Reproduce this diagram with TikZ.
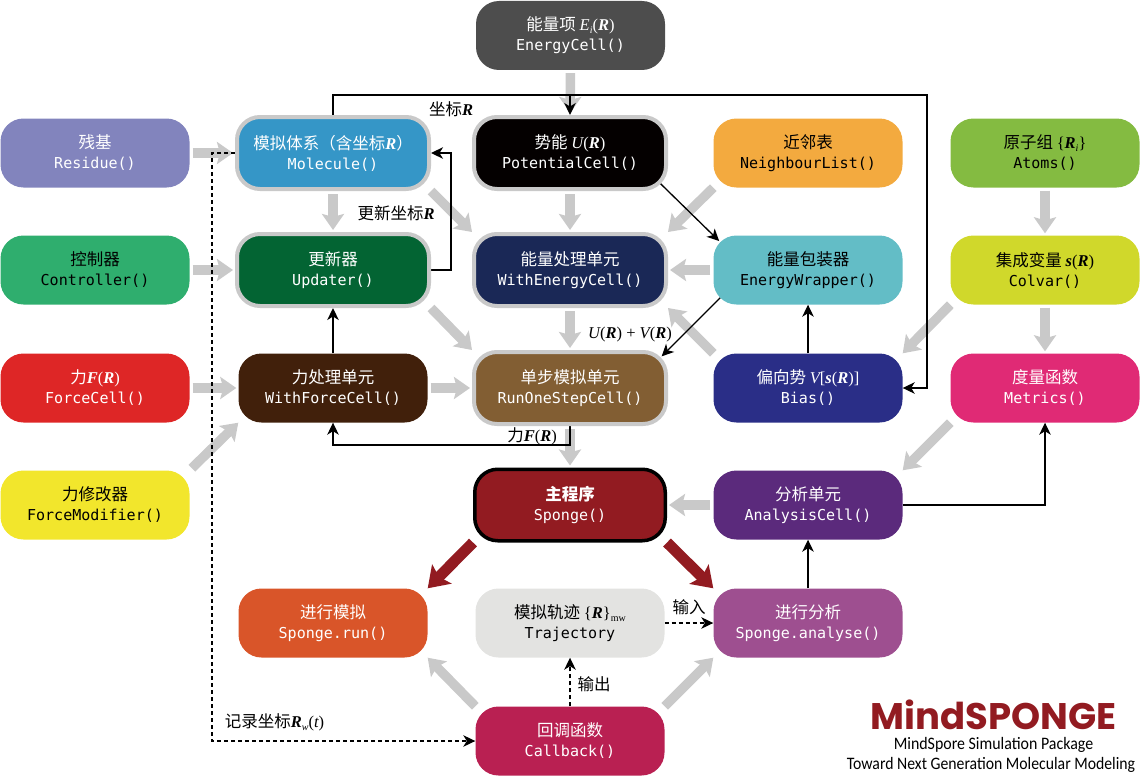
\documentclass[tikz,border=0pt]{standalone}
\usepackage{fontspec}
\setmainfont{Noto Sans CJK SC}
\newfontfamily\monof{DejaVu Sans Mono}
\newfontfamily\serf{Liberation Serif}
\newfontfamily\logof{Poppins}
\newfontfamily\subf{Carlito}
\usetikzlibrary{arrows.meta,calc,backgrounds}
\newcommand\iv[1]{{\serf\itshape #1}}
\newcommand\bv[1]{{\serf\bfseries\itshape #1}}
\newcommand\rv[1]{{\serf #1}}
\newcommand\lowtext[1]{\raisebox{-3pt}{\fontsize{10}{10}\selectfont #1}}
\newcommand\lab[2]{{\fontsize{16.5}{20}\selectfont #1}\\{\monof\fontsize{15.05}{20}\selectfont #2}}
\definecolor{gr}{HTML}{C9C9C9}
\definecolor{spred}{HTML}{921B21}
\tikzset{
  cell/.style={rounded corners=23pt,inner sep=0pt,minimum width=189pt,minimum height=69pt,align=center,text=white,font=\fontsize{15}{20}\selectfont},
  ring/.style={cell,draw=gr,line width=4pt,minimum width=192pt,minimum height=72pt},
  mainbox/.style={cell,draw=black,line width=3.5pt,minimum width=190.5pt,minimum height=71.5pt},
  gar/.style={draw=gr,line width=9.5pt,-{Stealth[width=22pt,length=16pt,inset=3pt]}},
  gs/.style={gar,shorten <=3pt,shorten >=2pt},
  rar/.style={draw=spred,line width=11pt,-{Stealth[width=27pt,length=20pt,inset=4pt]}},
  bar/.style={draw=black,line width=1.3pt,-{Stealth[width=11.5pt,length=12pt,inset=3.5pt]}},
  dar/.style={bar,line width=1.4pt,dash pattern=on 4pt off 3pt},
  tag/.style={inner sep=0pt,font=\fontsize{16.5}{18}\selectfont,text=black},
}
\begin{document}
\begin{tikzpicture}[x=1pt,y=-1pt]
\useasboundingbox (0,0) rectangle (1140,776);
% row 0
\node[cell,fill={rgb,255:red,77;green,77;blue,77}] (ene) at (570.5,35.5) {\lab{能量项 \iv{E}\lowtext{\iv{i}}\rv{(}\bv{R}\rv{)}}{EnergyCell()}};
% row 1
\node[cell,fill={rgb,255:red,130;green,132;blue,189}] (res) at (95,153) {\lab{残基}{Residue()}};
\node[ring,fill={rgb,255:red,53;green,150;blue,199}] (mol) at (333,153) {\lab{模拟体系（含坐标\bv{R}）}{Molecule()}};
\node[ring,fill={rgb,255:red,4;green,0;blue,0}] (pot) at (570,153) {\lab{势能 \iv{U}\rv{(}\bv{R}\rv{)}}{PotentialCell()}};
\node[cell,fill={rgb,255:red,243;green,170;blue,63},text=black] (nei) at (808,153) {\lab{近邻表}{NeighbourList()}};
\node[cell,fill={rgb,255:red,132;green,187;blue,65},text=black] (ato) at (1045,153) {\lab{原子组 \rv{\{}\bv{R}\lowtext{\iv{i}}\rv{\}}}{Atoms()}};
% row 2
\node[cell,fill={rgb,255:red,47;green,174;blue,110},text=black] (con) at (95,270) {\lab{控制器}{Controller()}};
\node[ring,fill={rgb,255:red,3;green,100;blue,51}] (upd) at (333,270) {\lab{更新器}{Updater()}};
\node[ring,fill={rgb,255:red,26;green,40;blue,86}] (wen) at (570,270) {\lab{能量处理单元}{WithEnergyCell()}};
\node[cell,fill={rgb,255:red,99;green,189;blue,198},text=black] (ewr) at (808,270) {\lab{能量包装器}{EnergyWrapper()}};
\node[cell,fill={rgb,255:red,208;green,216;blue,43},text=black] (col) at (1045,270) {\lab{集成变量 \bv{s}\rv{(}\bv{R}\rv{)}}{Colvar()}};
% row 3
\node[cell,fill={rgb,255:red,222;green,38;blue,38}] (foc) at (95,388) {\lab{力\bv{F}\rv{(}\bv{R}\rv{)}}{ForceCell()}};
\node[cell,fill={rgb,255:red,65;green,32;blue,11}] (wfo) at (333,388) {\lab{力处理单元}{WithForceCell()}};
\node[ring,fill={rgb,255:red,130;green,94;blue,51}] (run) at (570,388) {\lab{单步模拟单元}{RunOneStepCell()}};
\node[cell,fill={rgb,255:red,42;green,46;blue,135}] (bia) at (808,388) {\lab{偏向势 \iv{V}\rv{[}\bv{s}\rv{(}\bv{R}\rv{)]}}{Bias()}};
\node[cell,fill={rgb,255:red,224;green,42;blue,117}] (met) at (1045,388) {\lab{度量函数}{Metrics()}};
% row 4
\node[cell,fill={rgb,255:red,242;green,230;blue,44},text=black] (fmo) at (95,505) {\lab{力修改器}{ForceModifier()}};
\node[mainbox,fill=spred] (spo) at (570,505) {\lab{\bfseries 主程序}{Sponge()}};
\node[cell,fill={rgb,255:red,91;green,42;blue,124}] (ana) at (808,505) {\lab{分析单元}{AnalysisCell()}};
% row 5
\node[cell,fill={rgb,255:red,217;green,85;blue,41}] (srn) at (333,623) {\lab{进行模拟}{Sponge.run()}};
\node[cell,fill={rgb,255:red,227;green,227;blue,225},text=black] (tra) at (570,623) {\lab{模拟轨迹 \rv{\{}\bv{R}\rv{\}}\lowtext{\rv{mw}}}{Trajectory}};
\node[cell,fill={rgb,255:red,158;green,79;blue,144}] (san) at (808,623) {\lab{进行分析}{Sponge.analyse()}};
% row 6
\node[cell,fill={rgb,255:red,185;green,32;blue,82}] (cal) at (570,741) {\lab{回调函数}{Callback()}};
% labels
\node[tag] (l1) at (451,109) {坐标\bv{R}};
\node[tag] (l2) at (396,213) {更新坐标\bv{R}};
\node[tag] (l3) at (630,335) {\iv{U}\rv{(}\bv{R}\rv{) + }\iv{V}\rv{(}\bv{R}\rv{)}};
\node[tag] (l4) at (532,436) {力\bv{F}\rv{(}\bv{R}\rv{)}};
\node[tag] (l5) at (689,607) {输入};
\node[tag] (l6) at (594,684) {输出};
\node[tag] (l7) at (274.5,722) {记录坐标\bv{R}\lowtext{\iv{w}}\rv{(}\iv{t}\rv{)}};
% logo
\node[inner sep=0pt,text=spred,font=\logof\bfseries\fontsize{37}{37}\selectfont] (lg) at (993.5,715) {MindSPONGE};
\node[inner sep=0pt,font=\subf\fontsize{17.5}{18}\selectfont] (lg2) at (993.5,745) {\scalebox{0.91}[1]{MindSpore Simulation Package}};
\node[inner sep=0pt,font=\subf\fontsize{17.5}{18}\selectfont] (lg3) at (991,765) {\scalebox{0.9}[1]{Toward Next Generation Molecular Modeling}};
\begin{pgfonlayer}{background}
% grey arrows
\draw[gs] (res) -- (mol);
\draw[gs] (con) -- (upd);
\draw[gs] (foc) -- (wfo);
\draw[gar,shorten <=3pt] (fmo.north east) -- (wfo.south west);
\draw[gs] (mol) -- (upd);
\draw[gar] (mol.south east) -- (wen.north west);
\draw[gar] (upd.south east) -- (run.north west);
\draw[gs] (ene) -- (pot);
\draw[gs] (pot) -- (wen);
\draw[gar] (nei.south west) -- (wen.north east);
\draw[gs] (ewr) -- (wen);
\draw[gar] (bia.north west) -- (wen.south east);
\draw[gs] (wen) -- (run);
\draw[gs] (wfo) -- (run);
\draw[gs] (run) -- (spo);
\draw[gs] (ato) -- (col);
\draw[gs] (col) -- (met);
\draw[gar] (col.south west) -- (bia.north east);
\draw[gar] (met.south west) -- (ana.north east);
\draw[gs] (ana) -- (spo);
\draw[gar] (cal.north west) -- (srn.south east);
\draw[gar] (cal.north east) -- (san.south west);
% red arrows
\draw[rar] (spo.south west) -- (srn.north east);
\draw[rar] (spo.south east) -- (san.north west);
% black connectors
\coordinate (topl) at (333,95);
\coordinate (topr) at (927,95);
\draw[bar] (mol.north) -- (topl) -- (topr) -- (topr |- bia.east) -- (bia.east);
\draw[bar] (pot.north |- topl) -- (pot.north);
\coordinate (updr) at (451,270);
\draw[bar] (upd.east) -- (updr) -- (updr |- mol.east) -- (mol.east);
\draw[bar] (wfo.north) -- (upd.south);
\coordinate (runb) at (570,445);
\draw[bar] (run.south) -- (runb) -- (runb -| wfo.south) -- (wfo.south);
\draw[bar] ($(ewr.north west)!1.3!(pot.south east)$) -- ($(pot.south east)!1.13!(ewr.north west)$);
\draw[bar] ($(run.north east)!1.3!(ewr.south west)$) -- ($(ewr.south west)!1.14!(run.north east)$);
\draw[bar] (bia.north) -- (ewr.south);
\coordinate (anar) at (1045,505);
\draw[bar] (ana.east) -- (anar) -- (met.south);
\draw[bar] (san.north) -- (ana.south);
% dashed connectors
\coordinate (dsh) at (212,153);
\draw[dar] (mol.west) -- (dsh) -- (dsh |- cal.west) -- (cal.west);
\draw[dar] (tra.east) -- (san.west);
\draw[dar] (cal.north) -- (tra.south);
\end{pgfonlayer}
\end{tikzpicture}
\end{document}
